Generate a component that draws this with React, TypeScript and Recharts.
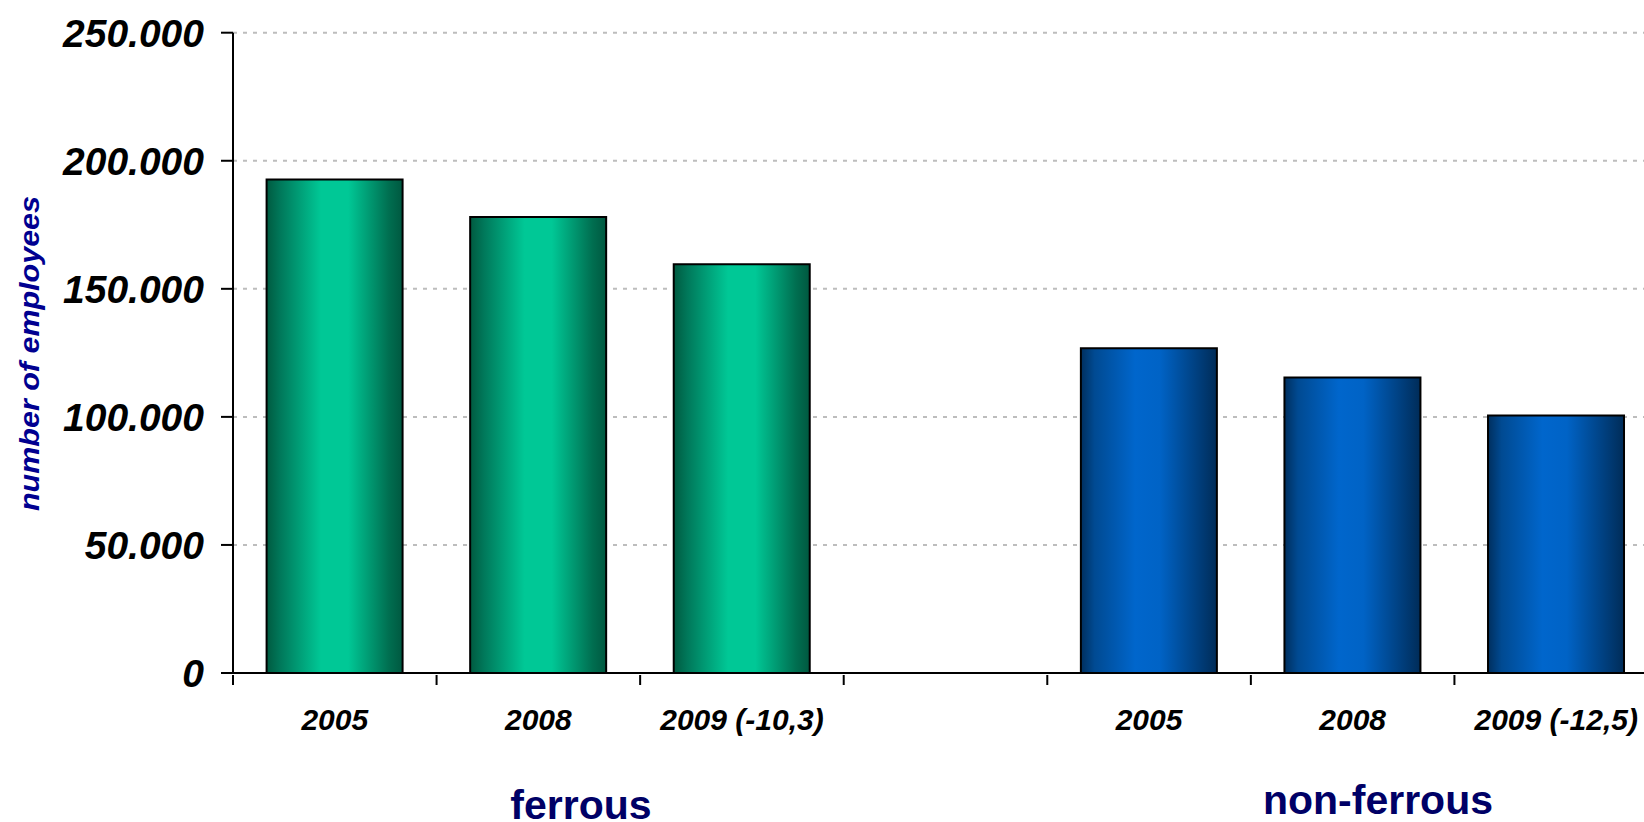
import { BarChart, Bar, XAxis, YAxis, CartesianGrid, Cell } from 'recharts';

const CATEGORIES = ['2005', '2008', '2009 (-10,3)', '', '2005', '2008', '2009 (-12,5)'];
const FERROUS = [192700, 178000, 159600];
const NON_FERROUS = [126800, 115400, 100500];
const Y_TICKS = [0, 50000, 100000, 150000, 200000, 250000];
const GROUP_LABELS = ['ferrous', 'non-ferrous'];
const Y_TITLE = 'number of employees';

const FONT = '"Liberation Sans", Arial, sans-serif';

// category 3 is the empty gap between the two groups
const data = CATEGORIES.map((name, i) => ({
  name,
  group: i < 3 ? 'ferrous' : i > 3 ? 'nonferrous' : null,
  value: i < 3 ? FERROUS[i] : i > 3 ? NON_FERROUS[i - 4] : null,
}));

const fmt = (v: number) => String(v).replace(/\B(?=(\d{3})+(?!\d))/g, '.');

// label in the band centre, tick mark on the band's left edge
function CategoryTick(props: any) {
  const { x, y, payload } = props;
  const half = payload?.offset ?? 0;
  return (
    <g>
      <line x1={x - half} x2={x - half} y1={y - 10} y2={y} stroke="#000" strokeWidth={2} />
      <text
        x={x}
        y={y + 24}
        dy="0.71em"
        textAnchor="middle"
        fontSize={30}
        fontWeight="bold"
        fontStyle="italic"
        fill="#000"
      >
        {payload.value}
      </text>
    </g>
  );
}

export default function App() {
  return (
    <div
      style={{
        position: 'absolute',
        left: 0,
        top: 0,
        width: 1644,
        height: 822,
        overflow: 'hidden',
        background: '#fff',
        fontFamily: FONT,
      }}
    >
      <BarChart
        width={1660}
        height={822}
        data={data}
        barCategoryGap="16.5%"
        margin={{ top: 32.7, right: 2, left: 0, bottom: 89 }}
        style={{ fontFamily: FONT }}
      >
        <defs>
          <linearGradient id="gFerrous" x1="0" y1="0" x2="1" y2="0">
            <stop offset="0%" stopColor="#005a40" />
            <stop offset="10%" stopColor="#00785a" />
            <stop offset="40%" stopColor="#00c896" />
            <stop offset="60%" stopColor="#00c896" />
            <stop offset="90%" stopColor="#006e50" />
            <stop offset="100%" stopColor="#005840" />
          </linearGradient>
          <linearGradient id="gNonFerrous" x1="0" y1="0" x2="1" y2="0">
            <stop offset="0%" stopColor="#002f5e" />
            <stop offset="10%" stopColor="#004a92" />
            <stop offset="40%" stopColor="#0066cc" />
            <stop offset="58%" stopColor="#0063c6" />
            <stop offset="88%" stopColor="#003c78" />
            <stop offset="100%" stopColor="#002c58" />
          </linearGradient>
        </defs>
        <CartesianGrid
          vertical={false}
          stroke="#bdbdbd"
          strokeWidth={2}
          strokeDasharray="4 6"
        />
        <XAxis
          dataKey="name"
          interval={0}
          height={60}
          tickSize={10}
          axisLine={{ stroke: '#000', strokeWidth: 2 }}
          tickLine={false}
          tick={<CategoryTick />}
        />
        <YAxis
          width={233}
          domain={[0, 250000]}
          ticks={Y_TICKS}
          interval={0}
          tickFormatter={fmt}
          tickSize={12}
          tickMargin={17}
          axisLine={{ stroke: '#000', strokeWidth: 2 }}
          tickLine={{ stroke: '#000', strokeWidth: 2 }}
          tick={{ fontSize: 39, fontWeight: 'bold', fontStyle: 'italic', fill: '#000' }}
        />
        <Bar dataKey="value" stroke="#000" strokeWidth={2} isAnimationActive={false}>
          {data.map((d, i) => (
            <Cell
              key={`c-${i}`}
              fill={d.group === 'ferrous' ? 'url(#gFerrous)' : 'url(#gNonFerrous)'}
            />
          ))}
        </Bar>
      </BarChart>
      <svg
        width={1644}
        height={822}
        style={{ position: 'absolute', left: 0, top: 0, pointerEvents: 'none' }}
      >
        <text
          transform="translate(38.5,353.5) rotate(-90)"
          textAnchor="middle"
          fontSize={28}
          fontWeight="bold"
          fontStyle="italic"
          fill="#000090"
          textLength={315}
          lengthAdjust="spacingAndGlyphs"
          style={{ fontFamily: FONT }}
        >
          {Y_TITLE}
        </text>
        <text
          x={581}
          y={819}
          textAnchor="middle"
          fontSize={41}
          fontWeight="bold"
          fill="#000066"
          style={{ fontFamily: FONT }}
        >
          {GROUP_LABELS[0]}
        </text>
        <text
          x={1378}
          y={814}
          textAnchor="middle"
          fontSize={41}
          fontWeight="bold"
          fill="#000066"
          style={{ fontFamily: FONT }}
        >
          {GROUP_LABELS[1]}
        </text>
      </svg>
    </div>
  );
}
